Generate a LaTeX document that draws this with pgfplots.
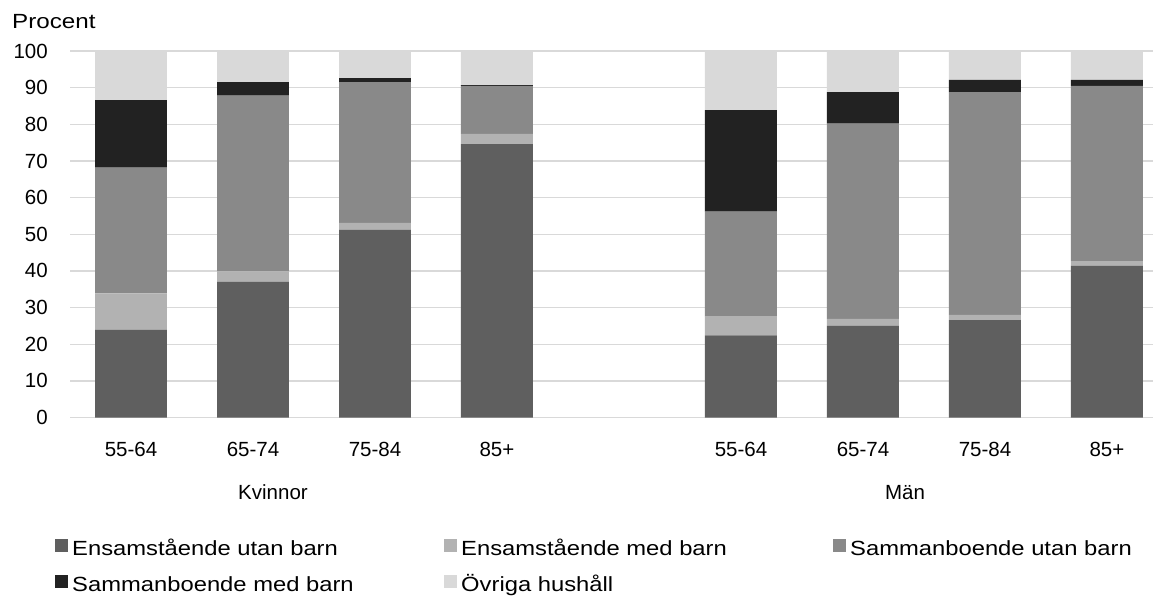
\documentclass[border=0pt]{standalone}
\usepackage{fontspec}
\setmainfont{Liberation Sans}
\usepackage{graphicx}
\usepackage{pgfplots}
\pgfplotsset{compat=1.18}

\definecolor{cEU}{HTML}{5F5F5F}
\definecolor{cEM}{HTML}{B2B2B2}
\definecolor{cSU}{HTML}{898989}
\definecolor{cSM}{HTML}{222222}
\definecolor{cOV}{HTML}{D9D9D9}
\definecolor{cgrid}{HTML}{D9D9D9}

\newcommand{\lfont}{\fontsize{20.5}{24}\selectfont}
% legend text is set a little wider in the original
\newcommand{\lent}[1]{\makebox[372pt][l]{\scalebox{1.16}[1]{#1}}}

\begin{document}
\begin{tikzpicture}
\useasboundingbox (0pt,0pt) rectangle (1153pt,598pt);
\begin{axis}[
    at={(70pt,180.5pt)}, anchor=south west,
    scale only axis,
    width=1083pt, height=366.5pt,
    ybar stacked,
    bar width=0.59,
    xmin=-0.5, xmax=8.377,
    ymin=0, ymax=100,
    ytick={0,10,...,100},
    xtick={0,1,2,3,5,6,7,8},
    xticklabels={55-64,65-74,75-84,85+,55-64,65-74,75-84,85+},
    major tick length=0pt,
    axis line style={draw=none},
    ymajorgrids=true,
    grid style={draw=cgrid, line width=1.4pt},
    tick label style={font=\lfont},
    /pgf/number format/assume math mode=true,
    yticklabel style={inner sep=0pt, anchor=east, xshift=-22pt},
    xticklabel style={anchor=base, yshift=-39pt},
    legend columns=3,
    legend style={
        at={(axis description cs:-0.01385,-0.3315)}, anchor=north west,
        draw=none, inner sep=0pt, font=\lfont,
        column sep=0pt, row sep=15pt,
        cells={anchor=base west},
        nodes={inner sep=0pt, text height=15pt, text depth=5pt},
    },
    legend image code/.code={
        \fill[#1] (1pt,3pt) rectangle (14pt,16pt);
        \path (18pt,0pt);
    },
]
\addplot[fill=cEU, draw=none] coordinates {
    (0,23.9) (1,37.0) (2,51.2) (3,74.6) (5,22.4) (6,25.1) (7,26.6) (8,41.4)};
\addplot[fill=cEM, draw=none] coordinates {
    (0,10.0) (1,2.9) (2,1.9) (3,2.8) (5,5.1) (6,1.8) (7,1.4) (8,1.3)};
\addplot[fill=cSU, draw=none] coordinates {
    (0,34.3) (1,47.9) (2,38.4) (3,13.1) (5,28.7) (6,53.3) (7,60.8) (8,47.8)};
\addplot[fill=cSM, draw=none] coordinates {
    (0,18.4) (1,3.7) (2,1.1) (3,0.2) (5,27.7) (6,8.6) (7,3.3) (8,1.6)};
\addplot[fill=cOV, draw=none] coordinates {
    (0,13.4) (1,8.5) (2,7.4) (3,9.3) (5,16.1) (6,11.2) (7,7.9) (8,7.9)};
\legend{\lent{Ensamstående utan barn},
        \lent{Ensamstående med barn},
        \lent{Sammanboende utan barn},
        \lent{Sammanboende med barn},
        \lent{Övriga hushåll}}
\end{axis}
\node[anchor=base west, inner sep=0pt, font=\lfont] at (12pt,569pt) {\scalebox{1.18}[1]{Procent}};
\node[anchor=base, inner sep=0pt, font=\lfont] at (273pt,99pt) {Kvinnor};
\node[anchor=base, inner sep=0pt, font=\lfont] at (905pt,99pt) {Män};
\end{tikzpicture}
\end{document}
